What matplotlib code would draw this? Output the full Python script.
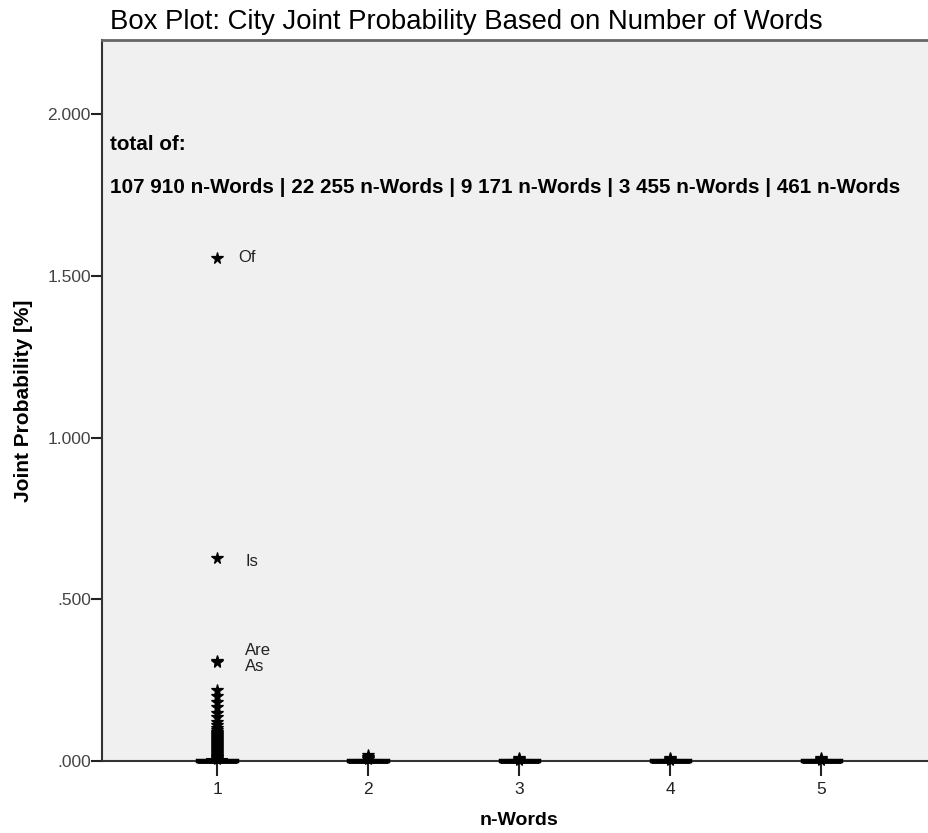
import matplotlib.pyplot as plt

plt.rcParams['font.family'] = ['Liberation Sans', 'DejaVu Sans']

# n-gram groups and their box statistics (joint probability in %)
groups = [1, 2, 3, 4, 5]
q1 = [0.0, 0.0, 0.0, 0.0, 0.0]
median = [0.0, 0.0, 0.0, 0.0, 0.0]
q3 = [0.004, 0.003, 0.003, 0.003, 0.003]
whisker_lo = [0.0, 0.0, 0.0, 0.0, 0.0]
whisker_hi = [0.006, 0.004, 0.004, 0.004, 0.004]

# extreme values per group
extremes = [
    [1.555, 0.628, 0.310, 0.306, 0.219, 0.200, 0.183, 0.166, 0.150, 0.135,
     0.122, 0.112, 0.103, 0.095, 0.089, 0.086, 0.083, 0.080, 0.077, 0.074,
     0.071, 0.068, 0.065, 0.062, 0.059, 0.056, 0.053, 0.050, 0.047, 0.044,
     0.041, 0.038, 0.035, 0.032, 0.029, 0.026, 0.023, 0.020, 0.017, 0.014,
     0.011, 0.008, 0.005],
    [0.019, 0.012, 0.008, 0.005],
    [0.008, 0.006, 0.004],
    [0.008, 0.006, 0.004],
    [0.008, 0.006, 0.004],
]

# labelled extremes in group 1
labels = ['Of', 'Is', 'Are', 'As']
label_values = [1.555, 0.628, 0.310, 0.306]

totals = ['107 910', '22 255', '9 171', '3 455', '461']

fig = plt.figure(figsize=(9.29, 8.33), dpi=100)
ax = fig.add_axes([0.1098, 0.0864, 0.8977, 0.8656])
ax.set_facecolor('#f0f0f0')

stats = []
for i in range(len(groups)):
    stats.append({
        'med': median[i], 'q1': q1[i], 'q3': q3[i],
        'whislo': whisker_lo[i], 'whishi': whisker_hi[i],
        'fliers': extremes[i],
    })

parts = ax.bxp(stats, positions=groups, widths=0.26, patch_artist=True,
               boxprops=dict(facecolor='black', edgecolor='black',
                             linewidth=2.5, joinstyle='miter'),
               medianprops=dict(color='black', linewidth=3.5,
                                solid_capstyle='butt'),
               whiskerprops=dict(color='black', linewidth=1.5),
               capprops=dict(color='black', linewidth=1.5),
               flierprops=dict(marker='*', markersize=8.5,
                               markerfacecolor='black',
                               markeredgecolor='black',
                               markeredgewidth=0.9))
# boxes sit on top of the bottom spine
for key in ['boxes', 'medians', 'whiskers', 'caps', 'fliers']:
    for artist in parts[key]:
        artist.set_clip_on(False)
        artist.set_zorder(3)

# word labels beside the extremes
label_dy = [0.003, -0.010, 0.033, -0.015]
label_dx = [0.14, 0.185, 0.185, 0.185]
for lab, v, dy, dx in zip(labels, label_values, label_dy, label_dx):
    ax.text(1 + dx, v + dy, lab, fontsize=12, va='center', ha='left',
            color='#222222')

ax.text(0.29, 1.905, 'total of:', fontsize=14.9, fontweight='bold',
        va='center', ha='left')
ax.text(0.29, 1.772, ' | '.join(t + ' n-Words' for t in totals),
        fontsize=14.9, fontweight='bold', va='center', ha='left')

ax.set_xlim(0.238, 5.76)
ax.set_ylim(0, 2.229)
ax.set_xticks(groups)
ax.set_xticklabels([str(g) for g in groups], fontsize=12.5, color='#222222')
ax.set_yticks([0, 0.5, 1.0, 1.5, 2.0])
ax.set_yticklabels(['.000', '.500', '1.000', '1.500', '2.000'],
                   fontsize=12.5, color='#444444')
ax.tick_params(axis='x', length=11, width=1.5, color='#222222', pad=4)
ax.tick_params(axis='y', length=8, width=1.5, color='#222222', pad=0)

for side in ['left', 'bottom']:
    ax.spines[side].set_color('#333333')
    ax.spines[side].set_linewidth(1.5)
ax.spines['top'].set_color('#666666')
ax.spines['top'].set_linewidth(2)
ax.spines['right'].set_visible(False)

ax.set_xlabel('n-Words', fontsize=14, fontweight='bold', labelpad=11)
ax.set_ylabel('Joint Probability [%]', fontsize=15, fontweight='bold',
              labelpad=10)
fig.text(0.118, 0.974, 'Box Plot: City Joint Probability Based on Number of Words',
         fontsize=19.8, va='center', ha='left')

fig.savefig('out.png', dpi=100, facecolor='white')
